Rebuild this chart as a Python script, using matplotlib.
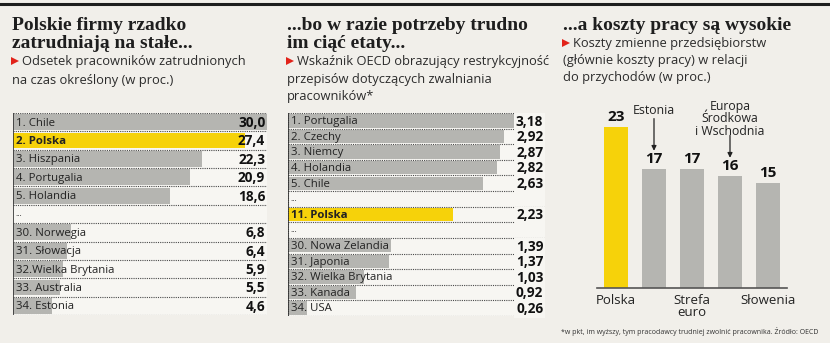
import matplotlib
matplotlib.use("Agg")
import matplotlib.pyplot as plt
from matplotlib.lines import Line2D

W, H = 830, 343
BG = "#f1efea"
ROW_BG = "#f7f6f2"
GRAY = "#b5b5b1"
YELLOW = "#f6d20a"
RED = "#e2231a"
DARK = "#1e1e1e"

SERIF = ["Liberation Serif", "DejaVu Serif"]
SANS = ["Open Sans", "DejaVu Sans"]

# Panel 1: share of employees on fixed-term contracts (%)
p1_labels = ["1. Chile", "2. Polska", "3. Hiszpania", "4. Portugalia", "5. Holandia", "...",
             "30. Norwegia", "31. Słowacja", "32.Wielka Brytania", "33. Australia", "34. Estonia"]
p1_values = [30.0, 27.4, 22.3, 20.9, 18.6, None, 6.8, 6.4, 5.9, 5.5, 4.6]
p1_value_text = ["30,0", "27,4", "22,3", "20,9", "18,6", "", "6,8", "6,4", "5,9", "5,5", "4,6"]

# Panel 2: OECD employment protection index
p2_labels = ["1. Portugalia", "2. Czechy", "3. Niemcy", "4. Holandia", "5. Chile", "...",
             "11. Polska", "...", "30. Nowa Zelandia", "31. Japonia", "32. Wielka Brytania",
             "33. Kanada", "34. USA"]
p2_values = [3.18, 2.92, 2.87, 2.82, 2.63, None, 2.23, None, 1.39, 1.37, 1.03, 0.92, 0.26]
p2_value_text = ["3,18", "2,92", "2,87", "2,82", "2,63", "", "2,23", "", "1,39", "1,37",
                 "1,03", "0,92", "0,26"]

# Panel 3: variable costs relative to revenue (%)
p3_names = ["Polska", "Estonia", "Strefa\neuro", "Europa\nŚrodkowa\ni Wschodnia", "Słowenia"]
p3_values = [23, 17, 17, 16, 15]
p3_below = [True, False, True, False, True]   # name under the axis, otherwise arrow above

HIGHLIGHT = "Polska"

fig = plt.figure(figsize=(W / 100, H / 100), dpi=100, facecolor=BG)


def fx(px):
    return px / W


def fy(py):
    return 1 - py / H


def axes_px(left, top, right, bottom):
    return fig.add_axes([fx(left), fy(bottom), (right - left) / W, (bottom - top) / H])


# top rule
fig.add_artist(Line2D([0, 1], [fy(4), fy(4)], color=DARK, lw=2.2, transform=fig.transFigure))


def titles(x, lines, sub_lines, y0, sub_y0, sub_step):
    for i, t in enumerate(lines):
        fig.text(fx(x), fy(y0 + 17.5 * i), t, family=SERIF, weight="bold", fontsize=14,
                 color=DARK, va="baseline", ha="left")
    fig.add_artist(Line2D([fx(x + 3)], [fy(sub_y0 - 4.5)], marker=">", color=RED, ms=5.5,
                          mew=0, ls="none", transform=fig.transFigure))
    for i, t in enumerate(sub_lines):
        xx = x + 10 if i == 0 else x
        fig.text(fx(xx), fy(sub_y0 + sub_step * i), t, family=SANS, fontsize=9.3,
                 color="#2b2b2b", va="baseline", ha="left")


titles(12, ["Polskie firmy rzadko", "zatrudniają na stałe..."],
       ["Odsetek pracowników zatrudnionych", "na czas określony (w proc.)"], 30, 65, 19)
titles(287, ["...bo w razie potrzeby trudno", "im ciąć etaty..."],
       ["Wskaźnik OECD obrazujący restrykcyjność", "przepisów dotyczących zwalniania",
        "pracowników*"], 30, 65, 17.5)
titles(563, ["...a koszty pracy są wysokie"],
       ["Koszty zmienne przedsiębiorstw", "(głównie koszty pracy) w relacji",
        "do przychodów (w proc.)"], 30, 47, 17)


def ranking(ax, labels, values, texts, xmax, label_size, value_size, value_box):
    n = len(labels)
    ax.set_facecolor(ROW_BG)
    ax.set_xlim(0, xmax)
    ax.set_ylim(n - 0.5, -0.5)
    for s in ax.spines.values():
        s.set_visible(False)
    ax.set_xticks([])
    ax.set_yticks([])
    for i, (lab, v, t) in enumerate(zip(labels, values, texts)):
        hl = HIGHLIGHT in lab
        if v is not None:
            ax.barh(i, v, height=0.86, color=YELLOW if hl else GRAY, lw=0)
        ax.text(0.01 * xmax, i + 0.05, lab, family=SANS, fontsize=label_size if lab != "..." else 6,
                weight="bold" if hl else "normal", color="#222", va="center", ha="left")
        if t:
            kw = {}
            if value_box:
                kw["bbox"] = dict(boxstyle="square,pad=0.12", fc=ROW_BG, ec="none")
            ax.text(0.993 * xmax, i + 0.05, t, family=SANS, fontsize=value_size, weight="bold",
                    color="#111", va="center", ha="right", **kw)
    for b in range(n + 1):
        ax.axhline(b - 0.5, color="#4a4a4a", lw=0.8, ls=(0, (1, 1)))
    ax.axvline(0, color="#333", lw=1.2)


ax1 = axes_px(13, 113, 267, 315)
ranking(ax1, p1_labels, p1_values, p1_value_text, 30.0, 8.2, 9.8, False)

ax2 = axes_px(288, 113, 545, 316)
ranking(ax2, p2_labels, p2_values, p2_value_text, 257 / 74.0, 8.2, 9.8, True)
ax2.axvline(0, color="#333", lw=0.8, ls=(0, (1, 1)))

# Panel 3 column chart
ax3 = axes_px(597, 100, 787, 288)
ax3.set_facecolor("none")
ax3.set_xlim(-0.5, 4.5)
ax3.set_ylim(0, 188 / 7.0)
xs = list(range(len(p3_values)))
ax3.bar(xs, p3_values, width=0.63, lw=0,
        color=[YELLOW if n == HIGHLIGHT else GRAY for n in p3_names])
for s in ["top", "right", "left"]:
    ax3.spines[s].set_visible(False)
ax3.spines["bottom"].set_color("#555")
ax3.spines["bottom"].set_linewidth(1.2)
ax3.set_yticks([])
ax3.set_xticks([x for x, b in zip(xs, p3_below) if b])
ax3.set_xticklabels([n for n, b in zip(p3_names, p3_below) if b], family=SANS, fontsize=9.5,
                    color="#222", linespacing=0.95)
ax3.tick_params(axis="x", length=0, pad=4)
for x, v in zip(xs, p3_values):
    ax3.annotate(str(v), (x, v), xytext=(0, 2), textcoords="offset points", ha="center",
                 va="bottom", family=SANS, fontsize=11, weight="bold", color="#111")
for x, v, n, b in zip(xs, p3_values, p3_names, p3_below):
    if b:
        continue
    nlines = n.count("\n") + 1
    top = v + 2.6 + (4.6 if nlines == 1 else 3.2)
    ax3.annotate("", xy=(x, v + 2.6), xytext=(x, top),
                 arrowprops=dict(arrowstyle="-|>", color="#222", lw=0.9, mutation_scale=7,
                                 shrinkA=0, shrinkB=0), annotation_clip=False)
    ax3.text(x, top + (0.3 if nlines == 1 else -0.3), n, ha="center", va="bottom",
             family=SANS, fontsize=8.8, color="#222", linespacing=0.92, clip_on=False)

fig.text(fx(818), fy(331), "*w pkt, im wyższy, tym pracodawcy trudniej zwolnić pracownika. "
         "Źródło: OECD", family=SANS, fontsize=5, color="#333", ha="right", va="center")

fig.savefig("out.png", dpi=100, facecolor=BG)
